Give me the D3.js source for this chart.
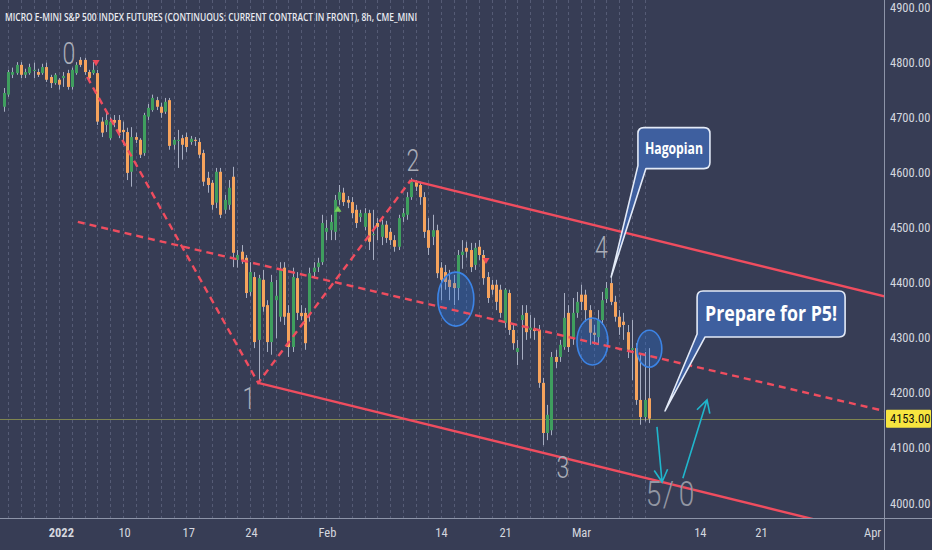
<!DOCTYPE html>
<html><head><meta charset="utf-8">
<script src="https://cdn.jsdelivr.net/npm/d3@7"></script>
<style>
html,body{margin:0;padding:0;background:#373d55;}
svg{display:block;}
</style></head><body>
<svg id="c" width="932" height="550"></svg>
<script>
// ---------- DATA (8h bars, index 0 = late Dec 2021) ----------
const open=[4719,4741,4777,4780,4795,4777,4780,4784,4782,4780,
4791,4773,4762,4768,4771,4780,4755,4780,4804,4804,
4782,4780,4780,4692,4686,4662,4695,4695,4677,4673,
4601,4664,4659,4635,4701,4713,4731,4719,4710,4731,
4650,4657,4662,4664,4655,4659,4655,4635,4590,4581,
4545,4601,4532,4541,4592,4441,4456,4445,4383,4410,
4296,4405,4359,4292,4368,4338,4427,4345,4283,4408,
4345,4345,4341,4419,4428,4437,4492,4495,4492,4550,
4563,4550,4546,4532,4519,4501,4526,4486,4508,4483,
4505,4492,4477,4465,4519,4523,4555,4583,4577,4555,
4495,4483,4495,4427,4419,4405,4399,4390,4450,4463,
4459,4432,4465,4450,4410,4396,4396,4387,4327,4381,
4314,4274,4332,4345,4314,4316,4314,4218,4127,4132,
4265,4265,4283,4345,4301,4345,4378,4378,4350,4309,
4301,4332,4370,4399,4365,4338,4329,4310,4278,4281,
4187,4156,4190];
const high=[4753,4786,4790,4800,4800,4788,4797,4799,4788,4797,
4799,4777,4780,4771,4782,4786,4790,4800,4809,4808,
4786,4800,4786,4700,4710,4700,4704,4704,4692,4681,
4682,4672,4662,4708,4724,4741,4737,4726,4735,4735,
4664,4677,4668,4672,4666,4664,4662,4641,4601,4586,
4608,4608,4559,4586,4610,4459,4468,4450,4437,4419,
4414,4423,4368,4414,4405,4437,4437,4359,4427,4419,
4359,4354,4427,4437,4445,4523,4514,4523,4559,4577,
4572,4557,4555,4541,4532,4535,4532,4532,4517,4514,
4512,4499,4486,4523,4535,4564,4590,4586,4583,4564,
4517,4523,4505,4437,4432,4423,4414,4459,4477,4474,
4472,4472,4477,4459,4419,4405,4405,4396,4390,4387,
4323,4296,4359,4359,4341,4336,4323,4227,4178,4274,
4278,4296,4381,4359,4372,4383,4396,4387,4359,4323,
4350,4383,4401,4417,4376,4350,4345,4323,4332,4290,
4269,4274,4281];
const low=[4710,4737,4771,4777,4771,4771,4777,4771,4773,4777,
4764,4753,4759,4750,4755,4750,4750,4777,4791,4777,
4768,4777,4686,4664,4673,4659,4682,4662,4650,4586,
4574,4653,4626,4630,4695,4710,4713,4699,4706,4641,
4641,4608,4623,4637,4650,4648,4626,4575,4563,4532,
4535,4517,4525,4532,4428,4427,4434,4372,4376,4281,
4220,4347,4274,4269,4299,4329,4323,4265,4274,4332,
4332,4278,4329,4408,4419,4432,4477,4477,4477,4541,
4539,4535,4517,4499,4510,4495,4459,4441,4477,4468,
4472,4468,4456,4459,4510,4514,4550,4566,4541,4481,
4450,4468,4408,4368,4387,4368,4359,4368,4425,4445,
4419,4423,4441,4396,4363,4378,4350,4336,4318,4305,
4278,4250,4260,4296,4299,4296,4209,4105,4114,4123,
4245,4256,4278,4274,4287,4336,4350,4329,4287,4287,
4287,4323,4363,4359,4329,4305,4296,4263,4223,4178,
4142,4148,4145];
const close=[4744,4782,4782,4795,4777,4782,4791,4786,4777,4791,
4768,4762,4777,4759,4775,4755,4786,4795,4795,4782,
4771,4786,4692,4672,4695,4692,4690,4672,4673,4599,
4664,4659,4632,4704,4717,4735,4719,4708,4728,4648,
4659,4659,4650,4646,4661,4657,4632,4583,4577,4541,
4601,4523,4550,4572,4454,4450,4441,4381,4419,4292,
4408,4356,4292,4401,4376,4423,4338,4283,4410,4345,
4339,4290,4417,4427,4436,4508,4499,4510,4550,4564,
4546,4545,4526,4508,4526,4526,4474,4488,4501,4505,
4481,4477,4465,4517,4526,4555,4583,4574,4555,4492,
4463,4495,4417,4405,4401,4392,4390,4450,4456,4456,
4428,4463,4450,4408,4372,4387,4365,4345,4387,4314,
4290,4281,4341,4310,4318,4312,4218,4127,4160,4265,
4256,4287,4336,4283,4345,4365,4365,4350,4309,4305,
4332,4368,4390,4365,4338,4319,4323,4278,4281,4187,
4156,4187,4153];

const priceTicks=[4000,4100,4200,4300,4400,4500,4600,4700,4800,4900];
const timeTickPos=[13.4,28.3,43.4,58.2,76.1,103,118.1,136,164,178.4,204.6];
const timeTickLabels=["2022","10","17","24","Feb","14","21","Mar","14","21","Apr"];
const lastPrice=4153;
const title="MICRO E-MINI S&P 500 INDEX FUTURES (CONTINUOUS: CURRENT CONTRACT IN FRONT), 8h, CME_MINI";

// drawings (bar index, price)
const wavePoints=[{i:19.6,p:4773},{i:59.9,p:4218},{i:95.9,p:4586}];
const midLine=[{i:17.4,p:4510},{i:208,p:4166}];
const upperLine=[{i:95.9,p:4586},{i:208,p:4374}];
const lowerLine=[{i:59.9,p:4218},{i:208,p:3938}];
const waveLabels=[{t:"0",i:15.3,p:4817},{t:"1",i:57.7,p:4192},{t:"2",i:96.4,p:4623},{t:"3",i:131.7,p:4067},{t:"4",i:140.8,p:4466}];
const finalLabel=[{t:"5",i:153.1,p:4018},{t:"/",i:156.6,p:4018},{t:"0",i:160.9,p:4018}];
const circles=[{i:106.5,p:4370,rx:18,ry:27},{i:138.7,p:4293,rx:15.5,ry:23.5},{i:152.1,p:4280,rx:12.5,ry:18.5}];
const callouts=[{text:"Hagopian",bi:157.9,bp:4644,w:72,h:41,ti:143.1,tp:4410,fs:16,tl:58},
                {text:"Prepare for P5!",bi:180.8,bp:4343,w:148,h:46,ti:155.8,tp:4167,fs:21,tl:132}];
const arrows=[{i1:153.9,p1:4138,i2:155.1,p2:4038},{i1:160.0,p1:4045,i2:165.7,p2:4187}];
const markers=[{i:21.7,p:4800,dir:"down",c:"#f04a5a"},{i:113.6,p:4441,dir:"down",c:"#f04a5a"},{i:78.7,p:4532,dir:"up",c:"#7ccf5a"}];

// ---------- CHART ----------
const W=932,H=550,plotR=884,plotB=518;
const svg=d3.select("#c");
const x=d3.scaleLinear().domain([0,152]).range([4,648.9]);
const y=d3.scaleLinear().domain([4000,4900]).range([503,7]);
const bars=d3.range(open.length);
const font='"Liberation Sans Narrow","Roboto Condensed",Roboto,"Noto Sans",sans-serif';

svg.append("rect").attr("width",W).attr("height",H).attr("fill","#373d55");
svg.append("defs").append("clipPath").attr("id","clip").append("rect").attr("width",plotR).attr("height",plotB);
const g=svg.append("g").attr("clip-path","url(#clip)");

// session breaks
g.selectAll("line.sb").data(bars.filter(i=>i%3===1)).join("line")
 .attr("x1",i=>Math.round(x(i))+0.5).attr("x2",i=>Math.round(x(i))+0.5)
 .attr("y1",0).attr("y2",plotB)
 .attr("stroke","rgba(175,185,215,0.25)").attr("stroke-dasharray","3,3");

// last price line
g.append("line").attr("x1",0).attr("x2",plotR).attr("y1",Math.round(y(lastPrice))+0.5).attr("y2",Math.round(y(lastPrice))+0.5)
 .attr("stroke","#7f8550").attr("stroke-width",1);

// candles
const up="#3f9e5e", dn="#f6a35c";
g.selectAll("line.wick").data(bars).join("line")
 .attr("x1",i=>Math.round(x(i))+0.5).attr("x2",i=>Math.round(x(i))+0.5)
 .attr("y1",i=>y(high[i])).attr("y2",i=>y(low[i]))
 .attr("stroke","#a7aec2").attr("stroke-width",1);
g.selectAll("rect.body").data(bars).join("rect")
 .attr("x",i=>Math.round(x(i))-1).attr("width",3)
 .attr("y",i=>y(Math.max(open[i],close[i])))
 .attr("height",i=>Math.max(1,Math.abs(y(open[i])-y(close[i]))))
 .attr("fill",i=>close[i]>=open[i]?up:dn);

// markers
g.selectAll("path.mk").data(markers).join("path")
 .attr("transform",d=>`translate(${x(d.i)},${y(d.p)})${d.dir==="down"?" rotate(180)":""}`)
 .attr("d",d3.symbol(d3.symbolTriangle,22)).attr("fill",d=>d.c);

// circles
g.selectAll("ellipse").data(circles).join("ellipse")
 .attr("cx",d=>x(d.i)).attr("cy",d=>y(d.p)).attr("rx",d=>d.rx).attr("ry",d=>d.ry)
 .attr("fill","rgba(40,125,245,0.28)").attr("stroke","#3c84e6").attr("stroke-width",1.6);

// lines
const ln=d3.line().x(d=>x(d.i)).y(d=>y(d.p));
const red="#ef4d5f";
g.append("path").attr("d",ln(wavePoints)).attr("fill","none").attr("stroke",red).attr("stroke-width",2.4).attr("stroke-dasharray","7,5");
g.append("path").attr("d",ln(midLine)).attr("fill","none").attr("stroke",red).attr("stroke-width",2.4).attr("stroke-dasharray","7,5");
g.append("path").attr("d",ln(upperLine)).attr("fill","none").attr("stroke",red).attr("stroke-width",2.4);
g.append("path").attr("d",ln(lowerLine)).attr("fill","none").attr("stroke",red).attr("stroke-width",2.4);

// wave labels
g.selectAll("text.wl").data(waveLabels).join("text")
 .attr("transform",d=>`translate(${x(d.i)},${y(d.p)}) scale(0.72,1)`)
 .attr("text-anchor","middle").attr("dy","0.36em")
 .attr("font-family","Roboto,sans-serif").attr("font-weight",300).attr("font-size",32)
 .attr("fill","#a9adb8").text(d=>d.t);
g.selectAll("text.fl").data(finalLabel).join("text")
 .attr("transform",d=>`translate(${x(d.i)},${y(d.p)}) scale(0.78,1)`)
 .attr("text-anchor","middle").attr("dy","0.36em")
 .attr("font-family","Roboto,sans-serif").attr("font-weight",300).attr("font-size",36)
 .attr("fill","#9296a3").text(d=>d.t);

// arrows
const cyan="#20b6cc";
arrows.forEach(a=>{
  const X1=x(a.i1),Y1=y(a.p1),X2=x(a.i2),Y2=y(a.p2);
  const ang=Math.atan2(Y2-Y1,X2-X1), L=14, s=0.5;
  const h1=[X2-L*Math.cos(ang-s),Y2-L*Math.sin(ang-s)], h2=[X2-L*Math.cos(ang+s),Y2-L*Math.sin(ang+s)];
  g.append("path").attr("d",`M${X1},${Y1}L${X2},${Y2}M${h1[0]},${h1[1]}L${X2},${Y2}L${h2[0]},${h2[1]}`)
   .attr("fill","none").attr("stroke",cyan).attr("stroke-width",1.6);
});

// callouts
callouts.forEach(c=>{
  const cx=x(c.bi),cy=y(c.bp),r=6;
  const x0=cx-c.w/2,x1=cx+c.w/2,y0=cy-c.h/2,y1=cy+c.h/2;
  const tx=x(c.ti),ty=y(c.tp);
  const p=`M${x0+r},${y0}H${x1-r}Q${x1},${y0} ${x1},${y0+r}V${y1-r}Q${x1},${y1} ${x1-r},${y1}H${x0+8}L${tx},${ty}L${x0},${y1-3}V${y0+r}Q${x0},${y0} ${x0+r},${y0}Z`;
  g.append("path").attr("d",p).attr("fill","#3e5f9f").attr("stroke","#e3eaf7").attr("stroke-width",1.6).attr("stroke-linejoin","round");
  g.append("text").attr("x",cx).attr("y",cy).attr("dy","0.35em").attr("text-anchor","middle")
   .attr("font-family",'"Open Sans",Roboto,sans-serif').attr("font-weight",700).attr("font-size",c.fs)
   .attr("textLength",c.tl).attr("lengthAdjust","spacingAndGlyphs")
   .attr("fill","#ffffff").text(c.text);
});

// title
svg.append("text").attr("x",5).attr("y",20.5).attr("font-family",'"Open Sans",Roboto,sans-serif').attr("font-weight",600)
 .attr("font-size",11.5).attr("textLength",412).attr("lengthAdjust","spacingAndGlyphs").attr("fill","#e9ebf1").text(title);

// axes
const ya=svg.append("g").attr("transform",`translate(${plotR},0)`)
 .call(d3.axisRight(y).tickValues(priceTicks).tickFormat(d=>d.toFixed(2)).tickSize(0).tickPadding(6));
ya.select(".domain").remove();
ya.selectAll("text").attr("fill","#d4d7df").attr("font-family",font).attr("font-size",12.5);

const xa=svg.append("g").attr("transform",`translate(0,${plotB})`)
 .call(d3.axisBottom(x).tickValues(timeTickPos).tickFormat((d,i)=>timeTickLabels[i]).tickSize(0).tickPadding(10));
xa.select(".domain").remove();
xa.selectAll("text").attr("fill","#d4d7df").attr("font-family",font).attr("font-size",12.5)
 .attr("font-weight",(d,i)=>i===0?700:400);

// separators
svg.append("line").attr("x1",plotR+0.5).attr("x2",plotR+0.5).attr("y1",0).attr("y2",H).attr("stroke","#8d94a8").attr("stroke-width",1);
svg.append("line").attr("x1",0).attr("x2",W).attr("y1",plotB+0.5).attr("y2",plotB+0.5).attr("stroke","#8d94a8").attr("stroke-width",1);

// last price label
const ly=y(lastPrice);
svg.append("rect").attr("x",plotR+2).attr("y",ly-9).attr("width",W-plotR-3).attr("height",18).attr("rx",1).attr("fill","#f7e53f");
svg.append("text").attr("x",plotR+6).attr("y",ly).attr("dy","0.35em").attr("fill","#111").attr("font-family",font).attr("font-size",12.5).text(lastPrice.toFixed(2));
</script>
</body></html>
